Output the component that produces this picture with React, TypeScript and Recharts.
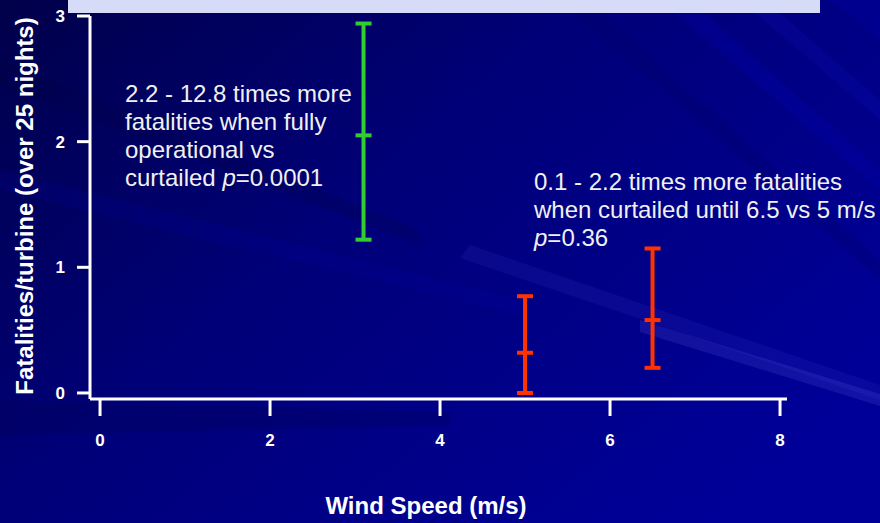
import React from "react";
import { ScatterChart, Scatter, ErrorBar, XAxis, YAxis } from "recharts";

// wind speed ticks (m/s) and fatality ticks
const X_TICKS = [0, 2, 4, 6, 8];
const Y_TICKS = [0, 1, 2, 3];

// fully operational turbines
const OPERATIONAL_X = [3.1];
const OPERATIONAL_LOW = [1.22];
const OPERATIONAL_MEAN = [2.05];
const OPERATIONAL_HIGH = [2.94];

// curtailed turbines (cut-in 5 and 6.5 m/s)
const CURTAILED_X = [5.0, 6.5];
const CURTAILED_LOW = [0.0, 0.2];
const CURTAILED_MEAN = [0.32, 0.58];
const CURTAILED_HIGH = [0.77, 1.15];

const GREEN = "#33cc33";
const RED = "#ff3300";
const FONT = "'Liberation Sans', Arial, sans-serif";

function toRows(xs: number[], lows: number[], means: number[], highs: number[]) {
  return xs.map((x, i) => ({
    x,
    y: means[i],
    err: [means[i] - lows[i], highs[i] - means[i]],
  }));
}

const operational = toRows(OPERATIONAL_X, OPERATIONAL_LOW, OPERATIONAL_MEAN, OPERATIONAL_HIGH);
const curtailed = toRows(CURTAILED_X, CURTAILED_LOW, CURTAILED_MEAN, CURTAILED_HIGH);

const meanTick = (color: string) => (props: any) => {
  const { cx, cy } = props;
  return <line x1={cx - 8} x2={cx + 8} y1={cy} y2={cy} stroke={color} strokeWidth={4} />;
};

const axisStyle = { stroke: "#ffffff", strokeWidth: 3 };

const XTick = (props: any) => (
  <text
    x={props.x}
    y={props.y}
    dy="0.71em"
    textAnchor="middle"
    fill="#ffffff"
    fontSize={17}
    fontWeight={700}
    fontFamily={FONT}
  >
    {props.payload.value}
  </text>
);

const YTick = (props: any) => (
  <text
    x={props.x}
    y={props.y}
    dy="0.355em"
    textAnchor="end"
    fill="#ffffff"
    fontSize={17}
    fontWeight={700}
    fontFamily={FONT}
  >
    {props.payload.value}
  </text>
);

function Background() {
  return (
    <svg width={880} height={523} style={{ position: "absolute", left: 0, top: 0 }}>
      <defs>
        <linearGradient id="bg" x1="0" y1="0" x2="1" y2="0.7">
          <stop offset="0" stopColor="#00004a" />
          <stop offset="0.45" stopColor="#000078" />
          <stop offset="1" stopColor="#000098" />
        </linearGradient>
      </defs>
      <rect width={880} height={523} fill="url(#bg)" />
      {/* faint diagonal streaks */}
      <polygon points="0,60 420,230 420,245 0,85" fill="#000040" opacity={0.2} />
      <polygon points="0,170 520,300 520,315 0,190" fill="#0000b0" opacity={0.15} />
      <polygon points="470,245 880,385 880,400 460,258" fill="#3a3ad0" opacity={0.15} />
      <polygon points="640,320 880,394 880,406 640,332" fill="#5a5ae0" opacity={0.2} />
      <polygon points="0,400 450,412 450,425 0,435" fill="#000050" opacity={0.25} />
      <polygon points="660,0 690,0 880,170 880,190" fill="#0000b8" opacity={0.25} />
      <polygon points="740,0 765,0 880,100 880,120" fill="#1010c0" opacity={0.2} />
      <polygon points="560,0 585,0 880,260 880,280" fill="#000060" opacity={0.2} />
      <polygon points="830,0 880,0 880,40" fill="#0000a8" opacity={0.3} />
    </svg>
  );
}

function Overlay() {
  const text = { fill: "#f0f0f0", fontSize: 24, fontFamily: FONT };
  return (
    <svg
      width={880}
      height={523}
      style={{ position: "absolute", left: 0, top: 0, pointerEvents: "none" }}
    >
      <rect x={68} y={0} width={752} height={13} fill="#d6dcf8" />

      <text {...text} x={125} y={102}>2.2 - 12.8 times more</text>
      <text {...text} x={125} y={130}>fatalities when fully</text>
      <text {...text} x={125} y={158}>operational vs</text>
      <text {...text} x={125} y={186}>
        curtailed <tspan fontStyle="italic">p</tspan>=0.0001
      </text>

      <text {...text} x={534} y={190}>0.1 - 2.2 times more fatalities</text>
      <text {...text} x={534} y={218}>when curtailed until 6.5 vs 5 m/s</text>
      <text {...text} x={534} y={246}>
        <tspan fontStyle="italic">p</tspan>=0.36
      </text>

      <text
        x={426}
        y={514}
        textAnchor="middle"
        fill="#ffffff"
        fontSize={24}
        fontWeight={700}
        fontFamily={FONT}
      >
        Wind Speed (m/s)
      </text>
      <text
        transform="translate(33,206) rotate(-90)"
        textAnchor="middle"
        fill="#ffffff"
        fontSize={24}
        fontWeight={700}
        fontFamily={FONT}
      >
        Fatalities/turbine (over 25 nights)
      </text>
    </svg>
  );
}

export default function App() {
  return (
    <div style={{ position: "absolute", left: 0, top: 0, width: 880, height: 523, overflow: "hidden" }}>
      <Background />
      <div style={{ position: "absolute", left: 0, top: 0 }}>
        <ScatterChart width={880} height={523} margin={{ top: 16, right: 93, bottom: 0, left: 0 }}>
          <XAxis
            type="number"
            dataKey="x"
            domain={[-0.118, 8.082]}
            ticks={X_TICKS}
            interval={0}
            allowDataOverflow
            height={124}
            tickSize={17}
            tickMargin={18}
            axisLine={axisStyle}
            tickLine={axisStyle}
            tick={XTick}
          />
          <YAxis
            type="number"
            dataKey="y"
            domain={[-0.048, 3]}
            ticks={Y_TICKS}
            interval={0}
            allowDataOverflow
            width={90}
            tickSize={13}
            tickMargin={12}
            axisLine={axisStyle}
            tickLine={axisStyle}
            tick={YTick}
          />
          <Scatter data={operational} shape={meanTick(GREEN)} isAnimationActive={false}>
            <ErrorBar
              dataKey="err"
              direction="y"
              width={8}
              stroke={GREEN}
              strokeWidth={4}
              isAnimationActive={false}
            />
          </Scatter>
          <Scatter data={curtailed} shape={meanTick(RED)} isAnimationActive={false}>
            <ErrorBar
              dataKey="err"
              direction="y"
              width={8}
              stroke={RED}
              strokeWidth={4}
              isAnimationActive={false}
            />
          </Scatter>
        </ScatterChart>
      </div>
      <Overlay />
    </div>
  );
}
